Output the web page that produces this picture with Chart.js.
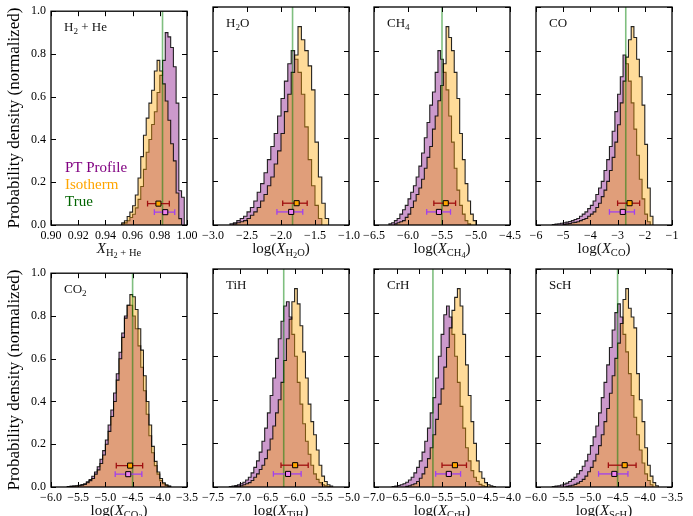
<!DOCTYPE html>
<html>
<head>
<meta charset="utf-8">
<script src="https://cdn.jsdelivr.net/npm/chart.js@4.4.0/dist/chart.umd.min.js"></script>
<style>
  html, body { margin: 0; padding: 0; background: #fff; overflow: hidden; }
  #wrap { position: relative; width: 693px; height: 516px; overflow: hidden; }
  #wrap canvas { position: absolute; }
</style>
</head>
<body>
<div id="wrap"></div>
<script>
// Posterior histograms: PT-profile retrieval vs isothermal retrieval

const SERIF = "'Liberation Serif', 'DejaVu Serif', serif";

// axis ranges per panel
const xMin = [0.90, -3.0, -6.5, -6, -6.0, -7.5, -7.0, -6.0];
const xMax = [1.00, -1.0, -4.5, -1, -3.5, -5.0, -4.0, -3.5];
const xStep = [0.02, 0.5, 0.5, 1, 0.5, 0.5, 0.5, 0.5];
const xDecimals = [2, 1, 1, 0, 1, 1, 1, 1];

const trueVals = [0.982, -1.83, -5.5, -2.7, -4.5, -6.2, -5.7, -4.5];

// median and 1-sigma interval
const isoMed = [0.979, -1.77, -5.445, -2.56, -4.545, -5.99, -5.215, -4.37];
const isoLo = [0.971, -1.975, -5.62, -3.0, -4.80, -6.25, -5.50, -4.67];
const isoHi = [0.987, -1.615, -5.30, -2.19, -4.315, -5.75, -4.96, -4.16];
const ptMed = [0.984, -1.85, -5.545, -2.81, -4.58, -6.12, -5.35, -4.56];
const ptLo = [0.976, -2.06, -5.725, -3.30, -4.82, -6.39, -5.64, -4.85];
const ptHi = [0.991, -1.68, -5.375, -2.38, -4.33, -5.88, -5.09, -4.31];

// histogram bins (first edge, bin width)
const binWidth = [0.002, 0.05, 0.04, 0.1, 0.05, 0.05, 0.06, 0.05];
const isoStart = [0.952, -2.70, -6.20, -5.0, -5.70, -7.10, -6.30, -5.45];
const ptStart = [0.952, -2.75, -6.28, -5.4, -5.70, -7.20, -6.60, -5.70];

const h2heIso = [0.01, 0.02, 0.04, 0.06, 0.09, 0.14, 0.22, 0.32, 0.42, 0.50, 0.57, 0.63, 0.72, 0.77, 0.72, 0.66, 0.58, 0.49, 0.38, 0.30, 0.15, 0.03];
const h2hePT = [0.005, 0.01, 0.02, 0.035, 0.05, 0.08, 0.12, 0.18, 0.26, 0.34, 0.40, 0.47, 0.53, 0.62, 0.70, 0.77, 0.90, 0.88, 0.83, 0.74, 0.57, 0.16, 0.13];
const h2oIso = [0.005, 0.01, 0.015, 0.02, 0.03, 0.045, 0.06, 0.08, 0.11, 0.14, 0.18, 0.22, 0.28, 0.34, 0.42, 0.52, 0.60, 0.70, 0.78, 0.91, 0.85, 0.80, 0.73, 0.62, 0.38, 0.22, 0.10, 0.03];
const h2oPT = [0.005, 0.01, 0.02, 0.03, 0.04, 0.06, 0.08, 0.11, 0.15, 0.19, 0.24, 0.30, 0.36, 0.42, 0.50, 0.58, 0.66, 0.74, 0.80, 0.76, 0.70, 0.60, 0.45, 0.30, 0.18, 0.09, 0.03];
const ch4Iso = [0.005, 0.01, 0.015, 0.02, 0.035, 0.05, 0.08, 0.11, 0.14, 0.17, 0.21, 0.26, 0.31, 0.36, 0.44, 0.50, 0.57, 0.64, 0.74, 0.91, 0.86, 0.80, 0.70, 0.58, 0.42, 0.30, 0.19, 0.11, 0.05, 0.02];
const ch4PT = [0.005, 0.01, 0.02, 0.03, 0.05, 0.07, 0.09, 0.12, 0.15, 0.18, 0.22, 0.27, 0.33, 0.40, 0.47, 0.55, 0.61, 0.70, 0.80, 0.76, 0.70, 0.62, 0.50, 0.38, 0.26, 0.16, 0.09, 0.05, 0.02, 0.005];
const coIso = [0.003, 0.005, 0.007, 0.01, 0.012, 0.015, 0.02, 0.025, 0.03, 0.04, 0.05, 0.06, 0.08, 0.10, 0.13, 0.16, 0.20, 0.25, 0.31, 0.38, 0.46, 0.56, 0.66, 0.77, 0.85, 0.91, 0.86, 0.76, 0.68, 0.55, 0.37, 0.17, 0.04];
const coPT = [0.002, 0.004, 0.006, 0.008, 0.01, 0.013, 0.016, 0.02, 0.025, 0.03, 0.04, 0.05, 0.06, 0.075, 0.09, 0.11, 0.14, 0.17, 0.20, 0.25, 0.30, 0.36, 0.43, 0.52, 0.60, 0.68, 0.78, 0.74, 0.66, 0.56, 0.44, 0.32, 0.21, 0.12, 0.05, 0.015];
const co2Iso = [0.002, 0.003, 0.004, 0.005, 0.006, 0.008, 0.012, 0.02, 0.03, 0.04, 0.06, 0.08, 0.11, 0.15, 0.20, 0.26, 0.33, 0.40, 0.50, 0.60, 0.70, 0.79, 0.85, 0.90, 0.89, 0.83, 0.74, 0.64, 0.52, 0.40, 0.29, 0.19, 0.12, 0.07, 0.04, 0.02, 0.01, 0.004];
const co2PT = [0.002, 0.003, 0.005, 0.006, 0.008, 0.011, 0.015, 0.024, 0.035, 0.05, 0.07, 0.095, 0.13, 0.17, 0.22, 0.29, 0.36, 0.44, 0.53, 0.63, 0.72, 0.80, 0.85, 0.85, 0.80, 0.74, 0.66, 0.56, 0.45, 0.34, 0.24, 0.16, 0.10, 0.06, 0.03, 0.015, 0.007, 0.003];
const tihIso = [0.002, 0.004, 0.006, 0.01, 0.015, 0.02, 0.03, 0.045, 0.06, 0.08, 0.10, 0.13, 0.17, 0.22, 0.28, 0.34, 0.40, 0.48, 0.58, 0.68, 0.77, 0.85, 0.91, 0.84, 0.74, 0.62, 0.50, 0.38, 0.30, 0.24, 0.17, 0.10, 0.05, 0.025, 0.01, 0.004];
const tihPT = [0.002, 0.004, 0.007, 0.01, 0.015, 0.022, 0.032, 0.045, 0.065, 0.09, 0.12, 0.16, 0.21, 0.27, 0.34, 0.42, 0.50, 0.59, 0.68, 0.76, 0.83, 0.85, 0.78, 0.70, 0.60, 0.48, 0.38, 0.29, 0.21, 0.15, 0.10, 0.06, 0.035, 0.02, 0.01, 0.005, 0.002];
const crhIso = [0.003, 0.006, 0.01, 0.015, 0.025, 0.04, 0.06, 0.09, 0.13, 0.18, 0.24, 0.31, 0.38, 0.45, 0.55, 0.64, 0.73, 0.81, 0.87, 0.91, 0.83, 0.70, 0.56, 0.42, 0.30, 0.20, 0.12, 0.07, 0.04, 0.02, 0.01, 0.005, 0.002];
const crhPT = [0.002, 0.004, 0.007, 0.01, 0.015, 0.022, 0.032, 0.045, 0.065, 0.09, 0.12, 0.16, 0.21, 0.27, 0.34, 0.41, 0.50, 0.60, 0.70, 0.79, 0.83, 0.78, 0.70, 0.60, 0.48, 0.37, 0.27, 0.18, 0.12, 0.075, 0.045, 0.025, 0.012, 0.006, 0.002];
const schIso = [0.003, 0.005, 0.008, 0.012, 0.018, 0.025, 0.035, 0.05, 0.07, 0.09, 0.12, 0.15, 0.19, 0.24, 0.30, 0.36, 0.43, 0.51, 0.59, 0.66, 0.75, 0.86, 0.91, 0.82, 0.78, 0.73, 0.52, 0.40, 0.30, 0.18, 0.10, 0.05, 0.02, 0.006];
const schPT = [0.002, 0.004, 0.006, 0.009, 0.013, 0.018, 0.025, 0.035, 0.045, 0.06, 0.075, 0.095, 0.12, 0.15, 0.19, 0.23, 0.28, 0.34, 0.41, 0.48, 0.56, 0.64, 0.72, 0.80, 0.84, 0.78, 0.70, 0.62, 0.52, 0.42, 0.32, 0.24, 0.17, 0.11, 0.06, 0.03, 0.01];

const isoHists = [h2heIso, h2oIso, ch4Iso, coIso, co2Iso, tihIso, crhIso, schIso];
const ptHists = [h2hePT, h2oPT, ch4PT, coPT, co2PT, tihPT, crhPT, schPT];

// labels: [text, level (0 normal, 1 sub, 2 sub-sub), 'i' for italic]
const panelNames = [
  [['H', 0], ['2', 1], [' + He', 0]],
  [['H', 0], ['2', 1], ['O', 0]],
  [['CH', 0], ['4', 1]],
  [['CO', 0]],
  [['CO', 0], ['2', 1]],
  [['TiH', 0]],
  [['CrH', 0]],
  [['ScH', 0]]
];
const xTitles = [
  [['X', 0, 'i'], ['H', 1], ['2', 2], [' + He', 1]],
  [['log(', 0], ['X', 0, 'i'], ['H', 1], ['2', 2], ['O', 1], [')', 0]],
  [['log(', 0], ['X', 0, 'i'], ['CH', 1], ['4', 2], [')', 0]],
  [['log(', 0], ['X', 0, 'i'], ['CO', 1], [')', 0]],
  [['log(', 0], ['X', 0, 'i'], ['CO', 1], ['2', 2], [')', 0]],
  [['log(', 0], ['X', 0, 'i'], ['TiH', 1], [')', 0]],
  [['log(', 0], ['X', 0, 'i'], ['CrH', 1], [')', 0]],
  [['log(', 0], ['X', 0, 'i'], ['ScH', 1], [')', 0]]
];
const legendLabels = ['PT Profile', 'Isotherm', 'True'];
const yTitle = 'Probability density (normalized)';

// layout
const plotLeft = [51, 213, 374, 536];
const plotTop = [7, 269];
const plotW = 136, plotH = 218;
const padL = 50, padT = 8, padR = 16, padB = 45;

function stepPoints(start, width, heights) {
  const pts = [{ x: start, y: 0 }];
  heights.forEach((h, i) => pts.push({ x: start + i * width, y: h }));
  pts.push({ x: start + heights.length * width, y: 0 });
  return pts;
}

function fmt(v, dec) {
  return v.toFixed(dec).replace('-', '\u2212');
}

function drawRich(ctx, segs, x, y, size, center) {
  const scale = [1, 0.7, 0.55];
  const drop = [0, 0.22, 0.36];
  let w = 0;
  const parts = segs.map(([t, lvl, st]) => {
    const font = (st === 'i' ? 'italic ' : '') + (size * scale[lvl]).toFixed(1) + 'px ' + SERIF;
    ctx.font = font;
    const pw = ctx.measureText(t).width;
    w += pw;
    return { t, font, pw, dy: size * drop[lvl] };
  });
  let cx = center ? x - w / 2 : x;
  ctx.textAlign = 'left';
  ctx.textBaseline = 'alphabetic';
  parts.forEach(p => {
    ctx.font = p.font;
    ctx.fillText(p.t, cx, y + p.dy);
    cx += p.pw;
  });
}

// frame with inward ticks on all four sides
const frameTicks = {
  id: 'frameTicks',
  afterDatasetsDraw(chart) {
    const { ctx, chartArea: a, scales: { x, y } } = chart;
    const len = 5;
    ctx.save();
    ctx.strokeStyle = '#000';
    ctx.lineWidth = 1;
    ctx.beginPath();
    x.ticks.forEach(t => {
      const px = Math.round(x.getPixelForValue(t.value)) + 0.5;
      ctx.moveTo(px, a.bottom); ctx.lineTo(px, a.bottom - len);
      ctx.moveTo(px, a.top); ctx.lineTo(px, a.top + len);
    });
    y.ticks.forEach(t => {
      const py = Math.round(y.getPixelForValue(t.value)) + 0.5;
      ctx.moveTo(a.left, py); ctx.lineTo(a.left + len, py);
      ctx.moveTo(a.right, py); ctx.lineTo(a.right - len, py);
    });
    ctx.stroke();
    ctx.lineWidth = 1.3;
    ctx.strokeRect(a.left, a.top, a.width, a.height);
    ctx.restore();
  }
};

// panel names, axis titles, legend text
const deco = {
  id: 'deco',
  afterDraw(chart, args, opts) {
    const i = opts.panel;
    const { ctx, chartArea: a } = chart;
    ctx.save();
    ctx.fillStyle = '#111';
    drawRich(ctx, panelNames[i], a.left + 13, a.top + 20, 13, false);
    drawRich(ctx, xTitles[i], (a.left + a.right) / 2, a.bottom + 28, 15, true);
    if (i % 4 === 0) {
      ctx.save();
      ctx.translate(a.left - 36, (a.top + a.bottom) / 2);
      ctx.rotate(-Math.PI / 2);
      ctx.font = '17px ' + SERIF;
      ctx.textAlign = 'center';
      ctx.textBaseline = 'middle';
      ctx.fillStyle = '#000';
      ctx.fillText(yTitle, 0, 0);
      ctx.restore();
    }
    if (i === 0) {
      const cols = ['#800080', '#ffa500', '#006400'];
      ctx.font = '15px ' + SERIF;
      ctx.textAlign = 'left';
      ctx.textBaseline = 'alphabetic';
      legendLabels.forEach((t, k) => {
        ctx.fillStyle = cols[k];
        ctx.fillText(t, a.left + 14, a.top + 161 + k * 17);
      });
    }
    ctx.restore();
  }
};

const wrap = document.getElementById('wrap');

for (let i = 0; i < 8; i++) {
  const r = Math.floor(i / 4), c = i % 4;
  const cv = document.createElement('canvas');
  cv.width = padL + plotW + padR;
  cv.height = padT + plotH + padB;
  cv.style.left = (plotLeft[c] - padL) + 'px';
  cv.style.top = (plotTop[r] - padT) + 'px';
  wrap.appendChild(cv);

  const tickFont = { family: SERIF, size: 12 };

  new Chart(cv.getContext('2d'), {
    type: 'line',
    data: {
      datasets: [
        {
          data: [{ x: isoMed[i], y: 0.1 }],
          order: 1, showLine: false,
          pointStyle: 'rect', pointRadius: 3.6,
          pointBackgroundColor: '#ffa500', pointBorderColor: '#000', pointBorderWidth: 1
        },
        {
          data: [{ x: ptMed[i], y: 0.06 }],
          order: 1, showLine: false,
          pointStyle: 'rect', pointRadius: 3.6,
          pointBackgroundColor: '#ee82ee', pointBorderColor: '#000', pointBorderWidth: 1
        },
        {
          data: [{ x: isoLo[i], y: 0.1 }, { x: isoHi[i], y: 0.1 }],
          order: 2, borderColor: '#a01010', borderWidth: 1.3, fill: false,
          pointStyle: 'line', pointRotation: 90, pointRadius: 2.8,
          pointBorderColor: '#a01010', pointBorderWidth: 1.3
        },
        {
          data: [{ x: ptLo[i], y: 0.06 }, { x: ptHi[i], y: 0.06 }],
          order: 2, borderColor: '#a040ee', borderWidth: 1.3, fill: false,
          pointStyle: 'line', pointRotation: 90, pointRadius: 2.8,
          pointBorderColor: '#a040ee', pointBorderWidth: 1.3
        },
        {
          data: [{ x: trueVals[i], y: 0 }, { x: trueVals[i], y: 1 }],
          order: 3, borderColor: 'rgba(0,128,0,0.5)', borderWidth: 1.6,
          pointRadius: 0, fill: false
        },
        {
          data: stepPoints(isoStart[i], binWidth[i], isoHists[i]),
          order: 8, stepped: 'before', fill: 'origin',
          backgroundColor: 'rgba(255,165,0,0.4)', borderColor: 'rgba(0,0,0,0.85)',
          borderWidth: 1.1, pointRadius: 0
        },
        {
          data: stepPoints(ptStart[i], binWidth[i], ptHists[i]),
          order: 9, stepped: 'before', fill: 'origin',
          backgroundColor: 'rgba(128,0,128,0.4)', borderColor: 'rgba(0,0,0,0.85)',
          borderWidth: 1.1, pointRadius: 0
        }
      ]
    },
    options: {
      responsive: false,
      animation: false,
      events: [],
      layout: { padding: { top: padT, right: padR, left: 0, bottom: 0 } },
      plugins: {
        legend: { display: false },
        tooltip: { enabled: false },
        deco: { panel: i }
      },
      scales: {
        x: {
          type: 'linear', min: xMin[i], max: xMax[i],
          afterFit: s => { s.height = padB; },
          grid: { display: false, drawTicks: false },
          border: { display: false },
          ticks: {
            stepSize: xStep[i], autoSkip: false, maxRotation: 0, padding: 4,
            color: '#000', font: tickFont,
            callback: v => fmt(v, xDecimals[i])
          }
        },
        y: {
          min: 0, max: 1,
          afterFit: s => { s.width = padL; },
          grid: { display: false, drawTicks: false },
          border: { display: false },
          ticks: {
            stepSize: 0.2, display: c === 0, padding: 5,
            color: '#000', font: tickFont,
            callback: v => v.toFixed(1)
          }
        }
      }
    },
    plugins: [frameTicks, deco]
  });
}
</script>
</body>
</html>
